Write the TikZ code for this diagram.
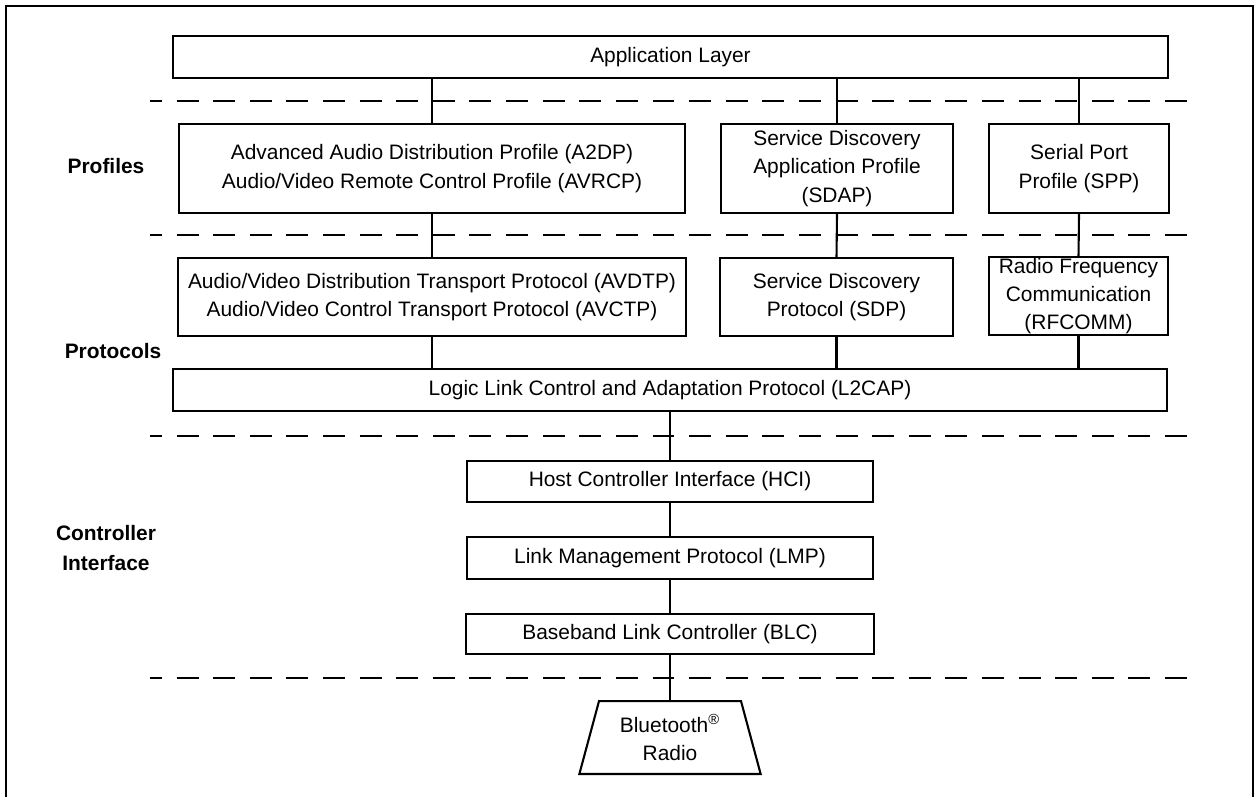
\documentclass[tikz,border=0pt]{standalone}
\usepackage{fontspec}
\setmainfont{Liberation Sans}
\usepackage{tikz}

\begin{document}
\begin{tikzpicture}[
  x=0.0168cm, y=-0.0168cm,
  line width=1pt,
  layer/.style={draw, inner sep=+0pt, align=center, font=\fontsize{10}{13.5}\selectfont},
  tag/.style={align=center, font=\fontsize{10}{14.5}\selectfont\bfseries},
  split/.style={dash pattern=on 10.5pt off 7pt, dash phase=4.8pt}
]
\useasboundingbox (0,0) rectangle (1255,797);

% frame
\draw[line width=1.2pt] (6,797) -- (6,6) -- (1253,6) -- (1253,797);

% borders between the groups
\draw[split] (150,101) -- (1198,101);
\draw[split] (150,235) -- (1198,235);
\draw[split] (150,436) -- (1198,436);
\draw[split] (150,678) -- (1198,678);

% group names
\node[tag] (profiles) at (106,166) {Profiles};
\node[tag] (protocols) at (113,351) {Protocols};
\node[tag] (ctrl) at (106,548) {Controller\\Interface};

\node[layer, minimum width=16.72cm, minimum height=0.71cm] (app) at (670.5,57) {Application Layer};

\node[layer, minimum width=8.50cm, minimum height=1.50cm] (a2dp) at (432,168.5) {Advanced Audio Distribution Profile (A2DP)\\Audio/Video Remote Control Profile (AVRCP)};
\node[layer, minimum width=3.90cm, minimum height=1.50cm] (sdap) at (837,168.5) {Service Discovery\\Application Profile\\(SDAP)};
\node[layer, minimum width=3.02cm, minimum height=1.50cm] (spp) at (1079,168.5) {Serial Port\\Profile (SPP)};

\node[layer, minimum width=8.53cm, minimum height=1.31cm] (avdtp) at (432,297) {Audio/Video Distribution Transport Protocol (AVDTP)\\Audio/Video Control Transport Protocol (AVCTP)};
\node[layer, minimum width=3.91cm, minimum height=1.31cm] (sdp) at (836.5,297) {Service Discovery\\Protocol (SDP)};
\node[layer, minimum width=3.01cm, minimum height=1.31cm] (rfcomm) at (1078.5,296) {Radio Frequency\\Communication\\(RFCOMM)};

\node[layer, minimum width=16.70cm, minimum height=0.71cm] (l2cap) at (670,390) {Logic Link Control and Adaptation Protocol (L2CAP)};

\node[layer, minimum width=6.82cm, minimum height=0.69cm] (hci) at (670,481.5) {Host Controller Interface (HCI)};
\node[layer, minimum width=6.82cm, minimum height=0.71cm] (lmp) at (670,558) {Link Management Protocol (LMP)};
\node[layer, minimum width=6.84cm, minimum height=0.67cm] (blc) at (670,634) {Baseband Link Controller (BLC)};

% radio, drawn as a trapezium round the text
\node[layer, draw=none, minimum width=2.35cm, minimum height=1.19cm] (radio) at (670,737.5) {Bluetooth\textsuperscript{®}\\Radio};
\draw (radio.north west) -- (radio.north east) -- ([xshift=0.33cm]radio.south east) -- ([xshift=-0.33cm]radio.south west) -- cycle;

% links
\draw (app.south -| a2dp.north) -- (a2dp.north);
\draw (app.south -| sdap.north) -- (sdap.north);
\draw (app.south -| spp.north) -- (spp.north);
\draw (a2dp.south) -- (avdtp.north);
\draw (sdap.south) -- (sdp.north);
\draw (spp.south) -- (rfcomm.north);
\draw (avdtp.south) -- (avdtp.south |- l2cap.north);
\draw (sdp.south) -- (sdp.south |- l2cap.north);
\draw (rfcomm.south) -- (rfcomm.south |- l2cap.north);
\draw (l2cap.south) -- (hci.north);
\draw (hci.south) -- (lmp.north);
\draw (lmp.south) -- (blc.north);
\draw (blc.south) -- (radio.north);

\end{tikzpicture}
\end{document}
